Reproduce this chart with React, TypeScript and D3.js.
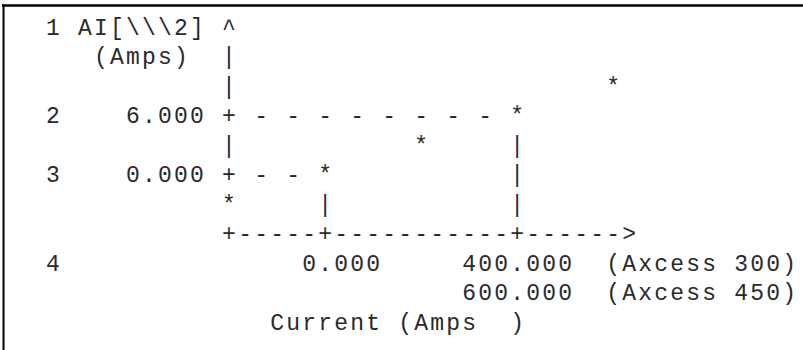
import React from "react";
import * as d3 from "d3";

// trace points: Current (Amps) vs AI (Amps)
const currentValues = [-200, 0, 200, 400, 600];
const aiValues = [-3, 0, 3, 6, 9];

// points that get guide lines back to the axes
const markedCurrent = [0, 400];
const markedAi = [0, 6];

// axis ticks
const yTickValues = [6, 0];
const yTickLabels = ["6.000", "0.000"];
const yRowNumbers = ["2", "3"];
const xTickValues = [0, 400];
const xTickLabels = ["0.000", "400.000"];
const xAltTickLabels = ["", "600.000"];
const axcessLabels = ["(Axcess 300)", "(Axcess 450)"];

const yTitle = "AI[\\\\\\2]";
const yUnit = "(Amps)";
const xTitle = "Current (Amps  )";

const W = 803;
const H = 350;
const COLS = 52;
const ROWS = 11;
const FONT = 23;
const PITCH = 16;

export default function App() {
  // value -> character cell
  const xCol = d3.scaleLinear().domain([0, 400]).range([19, 31]);
  const yRow = d3.scaleLinear().domain([0, 6]).range([5, 3]);
  // character cell -> pixel
  const colX = d3.scaleLinear().domain([0, 1]).range([21, 21 + PITCH]);
  const rowY = d3.scaleLinear().domain([0, 1]).range([34.5, 64]);

  const axisCol = Math.round(xCol(-200));
  const axisRow = Math.round(yRow(-6));
  const arrowCol = Math.round(xCol(d3.max(currentValues)!)) + 1;

  const grid: string[][] = d3.range(ROWS).map(() => Array(COLS).fill(" "));
  const put = (r: number, c: number, s: string) => {
    for (let i = 0; i < s.length; i++) grid[r][c + i] = s[i];
  };

  // y axis
  put(0, 2, "1");
  put(0, 4, yTitle);
  put(0, axisCol, "^");
  put(1, 5, yUnit);
  for (let r = 1; r < axisRow; r++) put(r, axisCol, "|");
  yTickValues.forEach((v, i) => {
    const r = Math.round(yRow(v));
    put(r, 2, yRowNumbers[i]);
    put(r, axisCol - 1 - yTickLabels[i].length, yTickLabels[i]);
    put(r, axisCol, "+");
  });

  // x axis
  for (let c = axisCol; c < arrowCol; c++) put(axisRow, c, "-");
  put(axisRow, axisCol, "+");
  put(axisRow, arrowCol, ">");
  xTickValues.forEach((v, i) => {
    const c = Math.round(xCol(v));
    put(axisRow, c, "+");
    put(axisRow + 1, c - xTickLabels[i].indexOf("."), xTickLabels[i]);
    if (xAltTickLabels[i])
      put(axisRow + 2, c - xAltTickLabels[i].indexOf("."), xAltTickLabels[i]);
  });
  put(axisRow + 1, 2, "4");
  axcessLabels.forEach((s, i) => put(axisRow + 1 + i, arrowCol - 1, s));
  put(axisRow + 3, 16, xTitle);

  // guide lines for the marked points
  markedCurrent.forEach((v, i) => {
    const c = Math.round(xCol(v));
    const r = Math.round(yRow(markedAi[i]));
    for (let k = axisCol + 2; k < c; k += 2) put(r, k, "-");
    for (let k = r + 1; k < axisRow; k++) put(k, c, "|");
  });

  // trace
  currentValues.forEach((v, i) => {
    put(Math.round(yRow(aiValues[i])), Math.round(xCol(v)), "*");
  });

  const lines = grid.map((row) => row.join("").replace(/\s+$/, ""));

  return (
    <svg
      width={W}
      height={H}
      style={{ position: "absolute", left: 0, top: 0, background: "#fff" }}
    >
      <line x1={2} x2={W} y1={5.5} y2={5.5} stroke="#000" strokeWidth={2.5} />
      <line x1={3.5} x2={3.5} y1={4.5} y2={H} stroke="#000" strokeWidth={2} />
      <g
        fontFamily="'Liberation Mono', 'DejaVu Sans Mono', monospace"
        fontSize={FONT}
        fill="#2a2a2a"
        style={{ whiteSpace: "pre", letterSpacing: `${PITCH - FONT * 0.6}px` }}
      >
        {lines.map((s, r) => (
          <text key={r} x={colX(0) - FONT * 0.3} y={rowY(r)} xmlSpace="preserve">
            {s}
          </text>
        ))}
      </g>
    </svg>
  );
}
